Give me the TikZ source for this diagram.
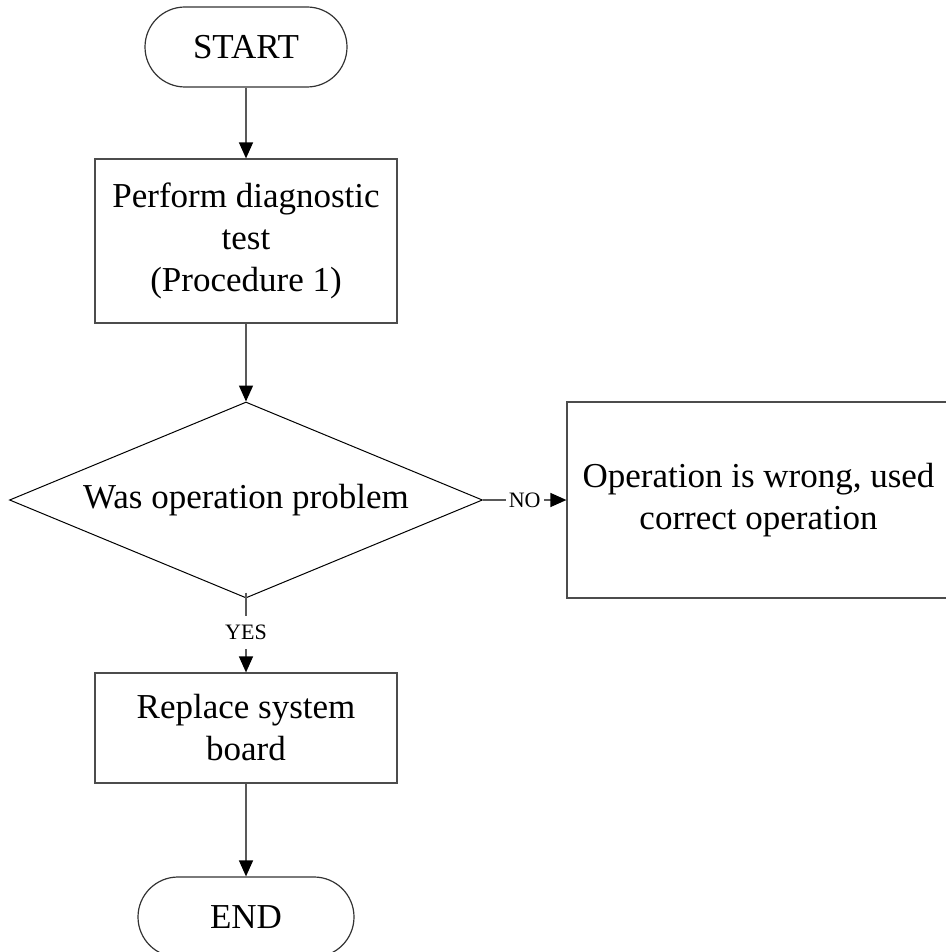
\documentclass[tikz,border=0pt]{standalone}
\usepackage{fontspec}
\setmainfont{Liberation Serif}
\usetikzlibrary{shapes.geometric,arrows.meta}

\begin{document}
\begin{tikzpicture}[x=0.5pt, y=-0.5pt,
        every node/.style={font=\fontsize{17.5}{21}\selectfont},
        terminal/.style={draw=black!80, line width=0.6pt, rounded corners=20pt,
            minimum width=101pt, minimum height=40pt},
        process/.style={draw=black!70, line width=0.6pt, align=center, minimum width=151pt},
        decision/.style={draw, diamond, line width=0.5pt, inner sep=0pt, aspect=2.41,
            minimum width=236.5pt, minimum height=98pt},
        flow/.style={draw=black!65, line width=0.7pt,
            -{Triangle[length=8pt, width=7pt, color=black]}},
        answer/.style={font=\fontsize{11}{13}\selectfont, fill=white,
            inner xsep=1.5pt, inner ysep=4.5pt}]
    \useasboundingbox (0,0) rectangle (946,952);
    \clip (0,0) rectangle (946,952);

    \node[terminal] (start) at (246,47) {START};
    \node[process, minimum height=82pt] (test) at (246,241)
        {Perform diagnostic\\test\\(Procedure 1)};
    \node[decision] (problem) at (246,500) {Was operation problem};
    \node[process, minimum width=191.5pt, minimum height=98pt] (wrong) at (758.5,500)
        {Operation is wrong, used\\correct operation};
    \node[process, minimum height=55pt] (replace) at (246,728) {Replace system\\board};
    \node[terminal, minimum width=108pt] (end) at (246,917) {END};

    \draw[flow] (start) -- (test);
    \draw[flow] (test) -- (problem);
    \draw[flow] (problem) -- node[answer] {NO} (wrong);
    \draw[flow] ([yshift=3pt]problem.south) -- node[answer] {YES} (replace);
    \draw[flow] (replace) -- (end);
\end{tikzpicture}
\end{document}
